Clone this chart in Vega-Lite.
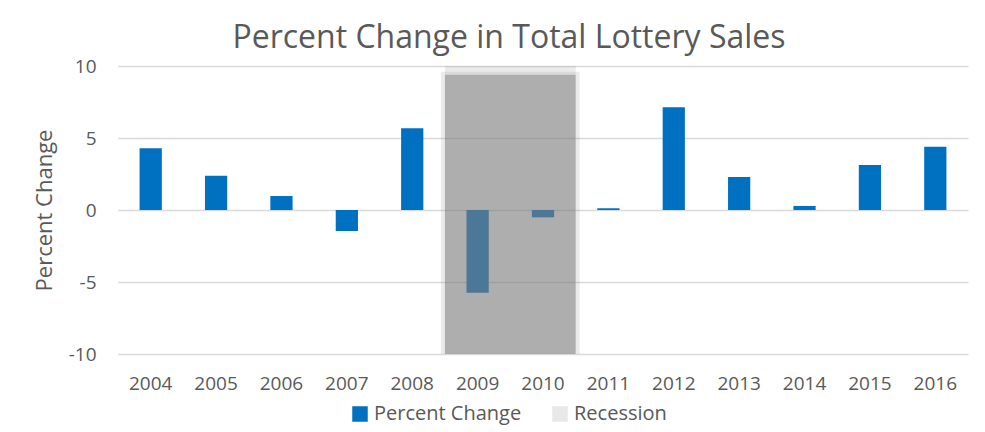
{
  "$schema": "https://vega.github.io/schema/vega-lite/v6.json",
  "autosize": "none",
  "width": 850,
  "height": 288,
  "padding": {"left": 118, "top": 66, "right": 17, "bottom": 78},
  "background": "white",
  "config": {
    "font": "Open Sans",
    "view": {"stroke": null},
    "axis": {"labelColor": "#595959", "titleColor": "#595959", "labelFont": "Open Sans", "titleFont": "Open Sans"}
  },
  "title": {
    "text": "Percent Change in Total Lottery Sales",
    "fontSize": 32,
    "font": "Open Sans",
    "fontWeight": "normal",
    "color": "#595959",
    "anchor": "middle",
    "dx": -34,
    "offset": 2
  },
  "datasets": {
    "sales": [
      {"year": "2004", "pct": 4.28, "series": "Percent Change"},
      {"year": "2005", "pct": 2.38, "series": "Percent Change"},
      {"year": "2006", "pct": 0.97, "series": "Percent Change"},
      {"year": "2007", "pct": -1.46, "series": "Percent Change"},
      {"year": "2008", "pct": 5.67, "series": "Percent Change"},
      {"year": "2009", "pct": -5.74, "series": "Percent Change"},
      {"year": "2010", "pct": -0.51, "series": "Percent Change"},
      {"year": "2011", "pct": 0.12, "series": "Percent Change"},
      {"year": "2012", "pct": 7.13, "series": "Percent Change"},
      {"year": "2013", "pct": 2.29, "series": "Percent Change"},
      {"year": "2014", "pct": 0.28, "series": "Percent Change"},
      {"year": "2015", "pct": 3.13, "series": "Percent Change"},
      {"year": "2016", "pct": 4.4, "series": "Percent Change"}
    ],
    "recession": [
      {"start": "2009", "end": "2010", "low": -10, "high": 9.4}
    ],
    "recessionTop": [
      {"start": "2009", "end": "2010", "low": 9.4, "high": 10}
    ],
    "recessionHalo": [
      {"start": "2009", "end": "2010", "low": -10, "high": 9.6}
    ]
  },
  "layer": [
    {
      "data": {"name": "sales"},
      "mark": {"type": "bar", "width": {"band": 0.34}},
      "encoding": {
        "x": {
          "field": "year",
          "type": "ordinal",
          "scale": {"paddingInner": 0, "paddingOuter": 0},
          "axis": {"title": null, "labelAngle": 0, "labelFontSize": 19, "labelPadding": 20, "ticks": false, "domain": false, "grid": false}
        },
        "y": {
          "field": "pct",
          "type": "quantitative",
          "scale": {"domain": [-10, 10], "nice": false},
          "axis": {
            "title": "Percent Change",
            "titleFontSize": 22,
            "titleFontWeight": "normal",
            "titlePadding": 12,
            "values": [-10, -5, 0, 5, 10],
            "labelExpr": "'' + datum.value",
            "labelFontSize": 19,
            "labelPadding": 22,
            "ticks": false,
            "domain": false,
            "grid": true,
            "gridColor": "#d9d9d9",
            "gridWidth": 1.3
          }
        },
        "color": {
          "field": "series",
          "type": "nominal",
          "scale": {"domain": ["Percent Change", "Recession"], "range": ["#0070C0", "#E8E8E8"]},
          "legend": {
            "title": null,
            "orient": "none",
            "direction": "horizontal",
            "legendX": 232,
            "legendY": 338,
            "symbolType": "square",
            "symbolSize": 240,
            "symbolStrokeWidth": 0,
            "symbolOpacity": 1,
            "labelFontSize": 20,
            "labelColor": "#595959",
            "labelFont": "Open Sans",
            "columnPadding": 28,
            "labelOffset": 4
          }
        }
      }
    },
    {
      "data": {"name": "recessionHalo"},
      "mark": {"type": "rect", "color": "#7B7B7B", "opacity": 0.15, "xOffset": -4, "x2Offset": 4},
      "encoding": {
        "x": {"field": "start", "type": "ordinal", "bandPosition": 0},
        "x2": {"field": "end", "bandPosition": 1},
        "y": {"field": "low", "type": "quantitative"},
        "y2": {"field": "high"}
      }
    },
    {
      "data": {"name": "recession"},
      "mark": {"type": "rect", "color": "#7B7B7B", "opacity": 0.55},
      "encoding": {
        "x": {"field": "start", "type": "ordinal", "bandPosition": 0},
        "x2": {"field": "end", "bandPosition": 1},
        "y": {"field": "low", "type": "quantitative"},
        "y2": {"field": "high"}
      }
    },
    {
      "data": {"name": "recessionTop"},
      "mark": {"type": "rect", "color": "#7B7B7B", "opacity": 0.15},
      "encoding": {
        "x": {"field": "start", "type": "ordinal", "bandPosition": 0},
        "x2": {"field": "end", "bandPosition": 1},
        "y": {"field": "low", "type": "quantitative"},
        "y2": {"field": "high"}
      }
    }
  ]
}
